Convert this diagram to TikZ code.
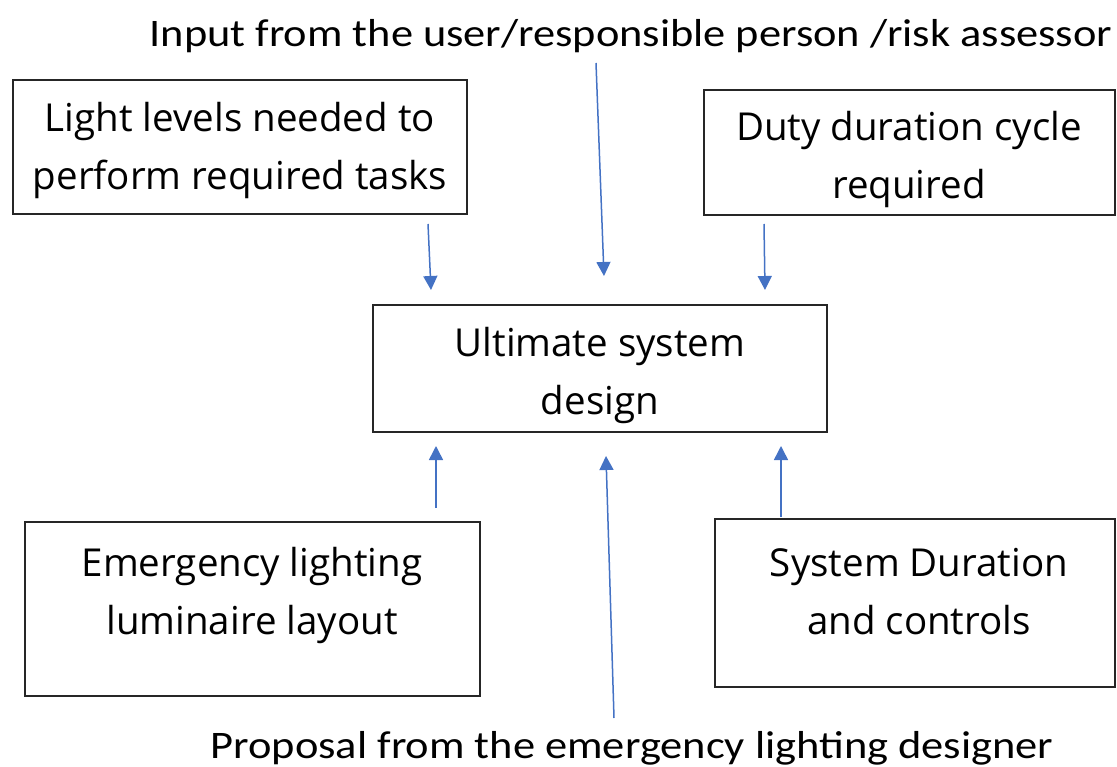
\documentclass[tikz,border=0pt]{standalone}
\usepackage{fontspec}
\setmainfont{Open Sans}
\newfontfamily\capfont{Carlito}
\usetikzlibrary{arrows.meta}
\definecolor{arrowblue}{HTML}{4472C4}
\tikzset{
  box/.style={draw=black!85, line width=1.6pt, inner sep=0pt},
  boxtext/.style={align=center, inner sep=0pt, font=\fontsize{38.5}{58}\selectfont},
  captext/.style={inner sep=0pt, anchor=base, font=\capfont\fontsize{39}{46}\selectfont},
  flow/.style={draw=arrowblue, line width=1.5pt, -{Triangle[length=14pt,width=14pt]}}
}
\begin{document}
\begin{tikzpicture}[x=1pt,y=-1pt]
\useasboundingbox (0,0) rectangle (1117,767);
% boxes
\node[box, minimum width=454pt, minimum height=134pt] (tl) at (240,147) {};
\node[box, minimum width=411pt, minimum height=125pt] (tr) at (909.5,152.5) {};
\node[box, minimum width=454pt, minimum height=127pt] (ce) at (600,368.5) {};
\node[box, minimum width=455pt, minimum height=174pt] (bl) at (252.5,609) {};
\node[box, minimum width=400pt, minimum height=168pt] (br) at (915,603) {};
% texts
\node[boxtext] (tlt) at (240,151) {Light levels needed to\\perform required tasks};
\node[boxtext] (trt) at (909,160) {Duty duration cycle\\required};
\node[boxtext] (cet) at (600,375) {Ultimate system\\design};
\node[boxtext] (blt) at (252,595) {Emergency lighting\\luminaire layout};
\node[boxtext] (brt) at (919,592) {System Duration\\and controls};
\node[captext] (top) at (631,47) {\scalebox{1.138}[1]{Input from the user/responsible person /risk assessor}};
\node[captext] (bot) at (632,758) {\scalebox{1.14}[1]{Proposal from the emergency lighting designer}};
% arrow end points
\coordinate (a1s) at (428,224); \coordinate (a1e) at (431,290);
\coordinate (a2s) at (596,63);  \coordinate (a2e) at (604,276);
\coordinate (a3s) at (764,224); \coordinate (a3e) at (765,290);
\coordinate (b1s) at (436,508); \coordinate (b1e) at (436,446);
\coordinate (b2s) at (614,718); \coordinate (b2e) at (606,456);
\coordinate (b3s) at (781,517); \coordinate (b3e) at (781,446);
\draw[flow] (a1s) -- (a1e);
\draw[flow] (a2s) -- (a2e);
\draw[flow] (a3s) -- (a3e);
\draw[flow] (b1s) -- (b1e);
\draw[flow] (b2s) -- (b2e);
\draw[flow] (b3s) -- (b3e);
\end{tikzpicture}
\end{document}
